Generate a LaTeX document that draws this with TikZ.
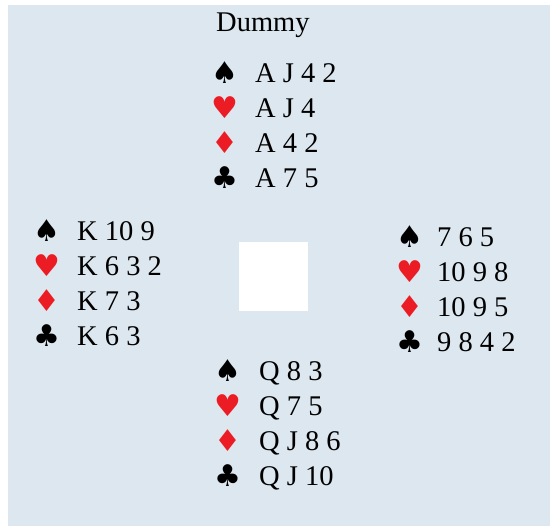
\documentclass[tikz,border=0pt]{standalone}
\usepackage{fontspec}
\usepackage{xcolor}
\usepackage{tikz}
\setmainfont{Liberation Serif}
\newfontfamily\suitfont{DejaVu Sans}
\definecolor{tablebg}{HTML}{DCE7EF}
\definecolor{suitred}{HTML}{EC1C24}
\tikzstyle{cards} = [anchor=base west, inner sep=0, font=\fontsize{28.5}{28.5}\selectfont]
\tikzstyle{suit} = [anchor=center, inner sep=0, font=\suitfont\fontsize{30}{30}\selectfont]
\tikzstyle{redsuit} = [suit, text=suitred]

\begin{document}
\begin{tikzpicture}[x=1pt, y=-1pt]
                            \useasboundingbox (0, 0) rectangle (550, 526);
                            \fill [tablebg] (8, 5) rectangle (550, 526);
                            \fill [white] (239, 242) rectangle (308, 311);
                            % dummy (north)
                            \node [cards] (title) at (216, 32) {Dummy};
                            \node [suit] (ns) at (225, 73) {♠};
                            \node [cards] (nS) at (255, 83) {A J 4 2};
                            \node [redsuit] (nh) at (225, 108) {♥};
                            \node [cards] (nH) at (255, 118) {A J 4};
                            \node [redsuit] (nd) at (225, 143) {♦};
                            \node [cards] (nD) at (255, 153) {A 4 2};
                            \node [suit] (nc) at (225, 178) {♣};
                            \node [cards] (nC) at (255, 188) {A 7 5};
                            % west
                            \node [suit] (ws) at (47, 231) {♠};
                            \node [cards] (wS) at (77, 241) {K 10 9};
                            \node [redsuit] (wh) at (47, 266) {♥};
                            \node [cards] (wH) at (77, 276) {K 6 3 2};
                            \node [redsuit] (wd) at (47, 301) {♦};
                            \node [cards] (wD) at (77, 311) {K 7 3};
                            \node [suit] (wc) at (47, 336) {♣};
                            \node [cards] (wC) at (77, 346) {K 6 3};
                            % east
                            \node [suit] (es) at (410, 237) {♠};
                            \node [cards] (eS) at (437, 247) {7 6 5};
                            \node [redsuit] (eh) at (410, 272) {♥};
                            \node [cards] (eH) at (437, 282) {10 9 8};
                            \node [redsuit] (ed) at (410, 307) {♦};
                            \node [cards] (eD) at (437, 317) {10 9 5};
                            \node [suit] (ec) at (410, 342) {♣};
                            \node [cards] (eC) at (437, 352) {9 8 4 2};
                            % south
                            \node [suit] (ss) at (228, 371) {♠};
                            \node [cards] (sS) at (259, 381) {Q 8 3};
                            \node [redsuit] (sh) at (228, 406) {♥};
                            \node [cards] (sH) at (259, 416) {Q 7 5};
                            \node [redsuit] (sd) at (228, 441) {♦};
                            \node [cards] (sD) at (259, 451) {Q J 8 6};
                            \node [suit] (sc) at (228, 476) {♣};
                            \node [cards] (sC) at (259, 486) {Q J 10};
                        \end{tikzpicture}
\end{document}
